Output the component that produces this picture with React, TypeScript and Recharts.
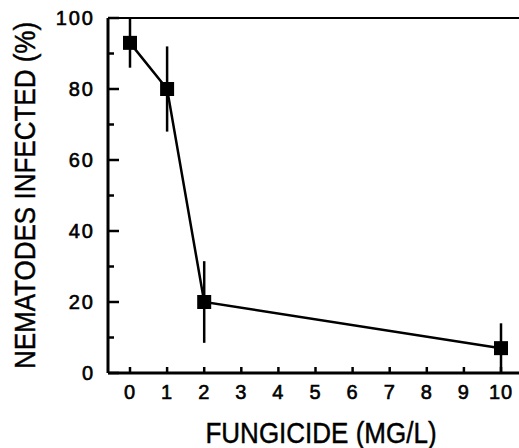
import { ComposedChart, Line, XAxis, YAxis, ErrorBar, ReferenceLine, Label } from "recharts";

// fungicide dose (mg/L), % infected nematodes, +/- error
const doses = [0, 1, 2, 10];
const infected = [93, 80, 20, 7];
const errors = [7, 12, 11.5, 7];

const xTicks = [0, 1, 2, 3, 4, 5, 6, 7, 8, 9, 10];
const yTicks = [0, 10, 20, 30, 40, 50, 60, 70, 80, 90, 100];
const yMajor = [0, 20, 40, 60, 80, 100];

const xDomain = [-0.593, 10.485];

const data = doses.map((d, i) => ({ dose: d, infected: infected[i], err: errors[i] }));

const font = "'Liberation Sans', Arial, Helvetica, sans-serif";

const SquareDot = (props: any) => {
  const { cx, cy } = props;
  if (cx == null || cy == null) return null;
  return <rect x={cx - 7} y={cy - 7} width={14} height={14} fill="#000" />;
};

// tick x/y sit on the axis line (tickSize and tickMargin are 0), marks point into the plot
const YTick = (props: any) => {
  const { x, y, payload } = props;
  const major = yMajor.includes(payload.value);
  return (
    <g>
      <line x1={x} x2={x + (major ? 11 : 6)} y1={y} y2={y} stroke="#000" strokeWidth={2.5} />
      {major && (
        <text x={x - 13} y={y + 7} textAnchor="end" fontSize={20} letterSpacing={2} fontFamily={font}
          fill="#000" stroke="#000" strokeWidth={0.6}>
          {payload.value}
        </text>
      )}
    </g>
  );
};

const XTick = (props: any) => {
  const { x, y, payload } = props;
  return (
    <g>
      <line x1={x} x2={x} y1={y} y2={y - 6} stroke="#000" strokeWidth={2.5} />
      <text x={x} y={y + 26} textAnchor="middle" fontSize={20} letterSpacing={1} fontFamily={font}
        fill="#000" stroke="#000" strokeWidth={0.6}>
        {payload.value}
      </text>
    </g>
  );
};

const YTitle = (props: any) => {
  const vb = props.viewBox;
  const cy = vb.y + vb.height / 2;
  return (
    <text x={0} y={0} transform={`translate(25, ${cy}) rotate(-90) scale(1, 1.1)`} textAnchor="middle"
      dominantBaseline="central" fontSize={26} fontFamily={font} fill="#000" stroke="#000" strokeWidth={0.4}>
      NEMATODES INFECTED (%)
    </text>
  );
};

const XTitle = (props: any) => {
  const vb = props.viewBox;
  return (
    <text x={0} y={0} transform={`translate(321, ${vb.y + 70}) scale(1, 1.1)`} textAnchor="middle"
      fontSize={26} fontFamily={font} fill="#000" stroke="#000" strokeWidth={0.4}>
      FUNGICIDE (MG/L)
    </text>
  );
};

export default function App() {
  return (
    <div style={{ position: "absolute", left: 0, top: 0, width: 519, height: 448, background: "#fff" }}>
      <ComposedChart width={519} height={448} data={data} margin={{ top: 18, right: 0, left: 0, bottom: 0 }}>
        <XAxis
          dataKey="dose"
          type="number"
          domain={xDomain}
          allowDataOverflow
          ticks={xTicks}
          interval={0}
          height={75}
          tickSize={0}
          tickMargin={0}
          tickLine={false}
          tick={<XTick />}
          axisLine={{ stroke: "#000", strokeWidth: 3 }}
        >
          <Label content={<XTitle />} />
        </XAxis>
        <YAxis
          type="number"
          domain={[0, 100]}
          ticks={yTicks}
          interval={0}
          width={108}
          tickSize={0}
          tickMargin={0}
          tickLine={false}
          tick={<YTick />}
          axisLine={{ stroke: "#000", strokeWidth: 3 }}
        >
          <Label content={<YTitle />} />
        </YAxis>
        <ReferenceLine y={100} stroke="#000" strokeWidth={2} />
        <Line
          dataKey="infected"
          stroke="#000"
          strokeWidth={2.5}
          dot={<SquareDot />}
          activeDot={false}
          isAnimationActive={false}
        >
          <ErrorBar dataKey="err" width={0} stroke="#000" strokeWidth={2.5} isAnimationActive={false} />
        </Line>
      </ComposedChart>
    </div>
  );
}
